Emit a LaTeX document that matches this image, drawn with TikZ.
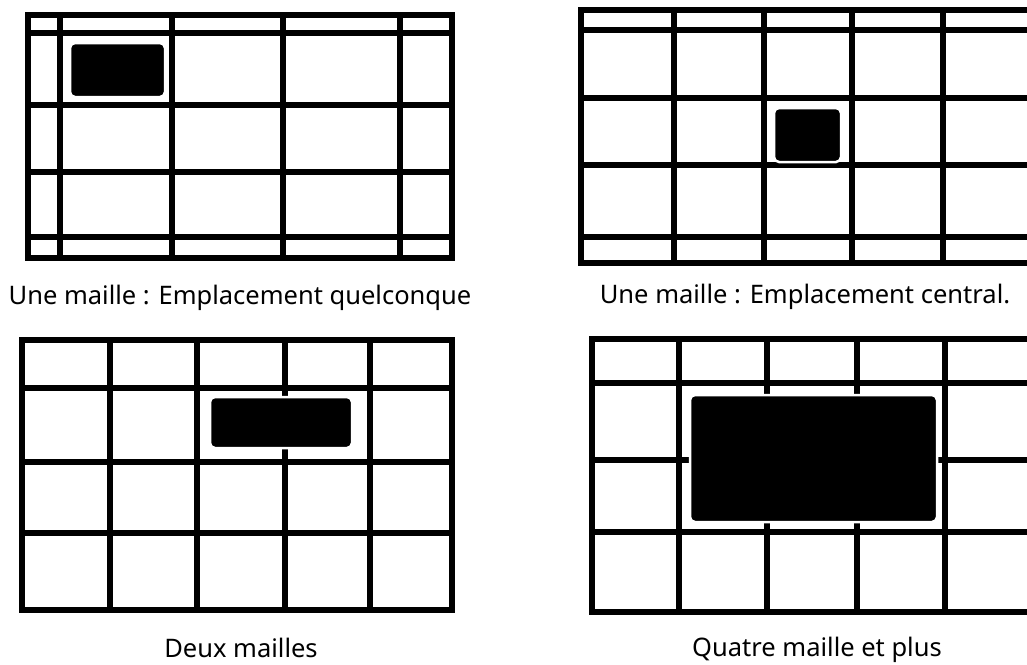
\documentclass[tikz,border=0pt]{standalone}
\usepackage{fontspec}
\setmainfont{Noto Sans}

\begin{document}
\begin{tikzpicture}[
    x=1pt, y=-1pt,
    every node/.style={font=\fontsize{25.5}{30}\selectfont},
    gridline/.style={line width=6pt, line cap=rect},
    maille/.style={fill=black, draw=white, line width=2.5pt, rounded corners=5pt},
    legende/.style={anchor=base, inner sep=0pt}
]
    \fill[white] (0,0) rectangle (1027,664);
    \useasboundingbox (0,0) rectangle (1027,664);

    % une maille, emplacement quelconque
    \foreach \x in {28,60,172,283,400,452}
        \draw[gridline] (\x,15) -- (\x,258);
    \foreach \y in {15,33,105,172,237,258}
        \draw[gridline] (28,\y) -- (452,\y);
    \draw[maille] (70,43) rectangle (165,97);
    \node[legende] (quelconque) at (240,304) {Une maille : Emplacement quelconque};

    % une maille, emplacement central
    \foreach \x in {581,674,764,852,943}
        \draw[gridline] (\x,10) -- (\x,263);
    \foreach \y in {10,30,98,165,237,263}
        \draw[gridline] (581,\y) -- (1027,\y);
    \draw[maille] (774,108) rectangle (841,162);
    \node[legende] (central) at (805,303) {Une maille : Emplacement central.};

    % deux mailles
    \foreach \x in {22,110,197,285,370,452}
        \draw[gridline] (\x,340) -- (\x,610);
    \foreach \y in {340,388,462,533,610}
        \draw[gridline] (22,\y) -- (452,\y);
    \draw[maille] (210,397) rectangle (352,448);
    \node[legende] (deux) at (241,657) {Deux mailles};

    % quatre mailles et plus
    \foreach \x in {592,679,767,857,945}
        \draw[gridline] (\x,339) -- (\x,612);
    \foreach \y in {339,383,460,532,612}
        \draw[gridline] (592,\y) -- (1027,\y);
    \draw[maille] (690,395) rectangle (937,522);
    \node[legende] (quatre) at (817,656) {Quatre maille et plus};
\end{tikzpicture}
\end{document}
